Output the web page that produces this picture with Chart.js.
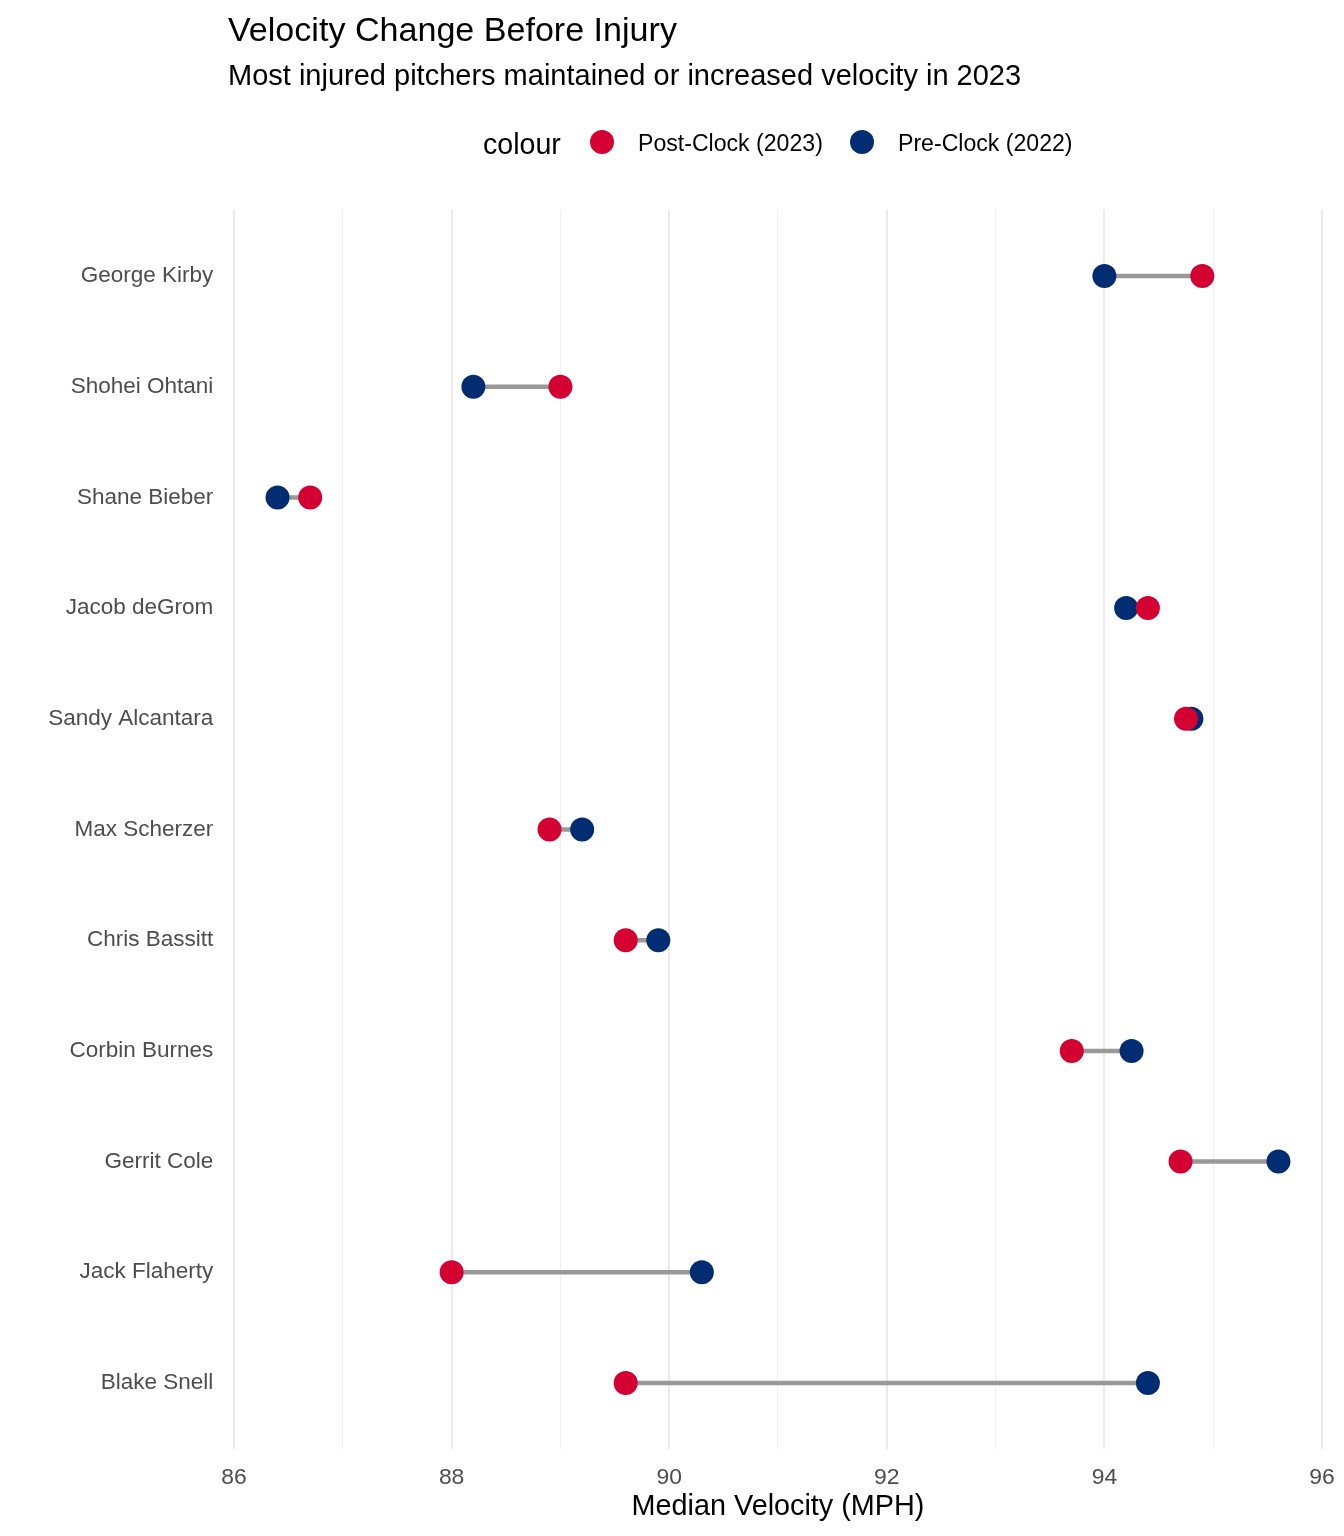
<!DOCTYPE html>
<html>
<head>
<meta charset="utf-8">
<script src="https://cdn.jsdelivr.net/npm/chart.js@4"></script>
<style>
  html, body { margin: 0; padding: 0; background: #fff; }
  #wrap { position: relative; width: 1344px; height: 1536px; font-family: "Liberation Sans", Arial, sans-serif; }
  #wrap canvas { position: absolute; left: 0; top: 0; width: 1344px; height: 1536px; }
  .t { position: absolute; line-height: 1; white-space: nowrap; color: #000; }
  .key { position: absolute; width: 24px; height: 24px; border-radius: 50%; }
</style>
</head>
<body>
<div id="wrap">
  <canvas id="c" width="1344" height="1536"></canvas>
  <div class="t" style="left:228px; top:12.2px; font-size:34.1px;">Velocity Change Before Injury</div>
  <div class="t" style="left:228px; top:60.5px; font-size:29px;">Most injured pitchers maintained or increased velocity in 2023</div>
  <div class="t" style="left:483px; top:129.5px; font-size:28.6px;">colour</div>
  <div class="key" style="left:589.7px; top:130.3px; background:#D50032;"></div>
  <div class="t" style="left:638px; top:132px; font-size:23.1px;">Post-Clock (2023)</div>
  <div class="key" style="left:850px; top:130.3px; background:#002D72;"></div>
  <div class="t" style="left:898px; top:132px; font-size:23.1px;">Pre-Clock (2022)</div>
</div>
<script>
// Pitchers listed top to bottom
const pitchers = ["George Kirby", "Shohei Ohtani", "Shane Bieber", "Jacob deGrom", "Sandy Alcantara",
                  "Max Scherzer", "Chris Bassitt", "Corbin Burnes", "Gerrit Cole", "Jack Flaherty", "Blake Snell"];
const preClock2022  = [94.0, 88.2, 86.4, 94.2, 94.8, 89.2, 89.9, 94.25, 95.6, 90.3, 94.4];
const postClock2023 = [94.9, 89.0, 86.7, 94.4, 94.75, 88.9, 89.6, 93.7, 94.7, 88.0, 89.6];
const xTickValues = [86, 87, 88, 89, 90, 91, 92, 93, 94, 95, 96];
const xLabelValues = [86, 88, 90, 92, 94, 96];

const RED = "#D50032", BLUE = "#002D72";
const n = pitchers.length;
const yPos = i => n - i;

const segDatasets = pitchers.map((p, i) => ({
  type: "line",
  label: p,
  data: [{x: preClock2022[i], y: yPos(i)}, {x: postClock2023[i], y: yPos(i)}],
  borderColor: "#999999",
  borderWidth: 4.5,
  pointRadius: 0,
  pointHoverRadius: 0,
  fill: false,
  order: 3
}));

const FONT = "'Liberation Sans', Arial, sans-serif";

new Chart(document.getElementById("c"), {
  type: "scatter",
  data: {
    datasets: [
      {
        label: "Post-Clock (2023)",
        data: postClock2023.map((v, i) => ({x: v, y: yPos(i)})),
        backgroundColor: RED, borderColor: RED, borderWidth: 0,
        pointRadius: 12, pointHoverRadius: 12, order: 1
      },
      {
        label: "Pre-Clock (2022)",
        data: preClock2022.map((v, i) => ({x: v, y: yPos(i)})),
        backgroundColor: BLUE, borderColor: BLUE, borderWidth: 0,
        pointRadius: 12, pointHoverRadius: 12, order: 2
      },
      ...segDatasets
    ]
  },
  options: {
    responsive: false,
    animation: false,
    devicePixelRatio: 1,
    layout: { padding: { left: 0, right: 15.5, top: 209.6, bottom: 0 } },
    plugins: { legend: { display: false }, tooltip: { enabled: false }, title: { display: false } },
    scales: {
      x: {
        type: "linear",
        min: 85.94, max: 96.06,
        afterBuildTicks: s => { s.ticks = xTickValues.map(v => ({value: v})); },
        afterFit: s => { s.height = 86.6; s.paddingLeft = 0; s.paddingRight = 0; },
        border: { display: false },
        grid: {
          drawTicks: false,
          color: ctx => (xLabelValues.includes(ctx.tick.value) ? "#EBEBEB" : "#F0F0F0"),
          lineWidth: ctx => (xLabelValues.includes(ctx.tick.value) ? 2 : 1.1)
        },
        ticks: {
          autoSkip: false,
          maxRotation: 0,
          padding: 14.5,
          color: "#4D4D4D",
          font: { family: FONT, size: 22.9 },
          callback: v => (xLabelValues.includes(v) ? String(v) : "")
        },
        title: {
          display: true,
          text: "Median Velocity (MPH)",
          color: "#000",
          font: { family: FONT, size: 28.8 },
          padding: { top: 0, bottom: 11.5 }
        }
      },
      y: {
        type: "linear",
        min: 0.4, max: 11.6,
        afterBuildTicks: s => { s.ticks = pitchers.map((p, i) => ({value: yPos(i)})); },
        afterFit: s => { s.width = 227.5; s.paddingTop = 0; s.paddingBottom = 0; },
        border: { display: false },
        grid: { display: false, drawTicks: false },
        ticks: {
          autoSkip: false,
          padding: 14.2,
          color: "#4D4D4D",
          font: { family: FONT, size: 22.5 },
          callback: v => pitchers[n - v]
        }
      }
    }
  }
});
</script>
</body>
</html>
